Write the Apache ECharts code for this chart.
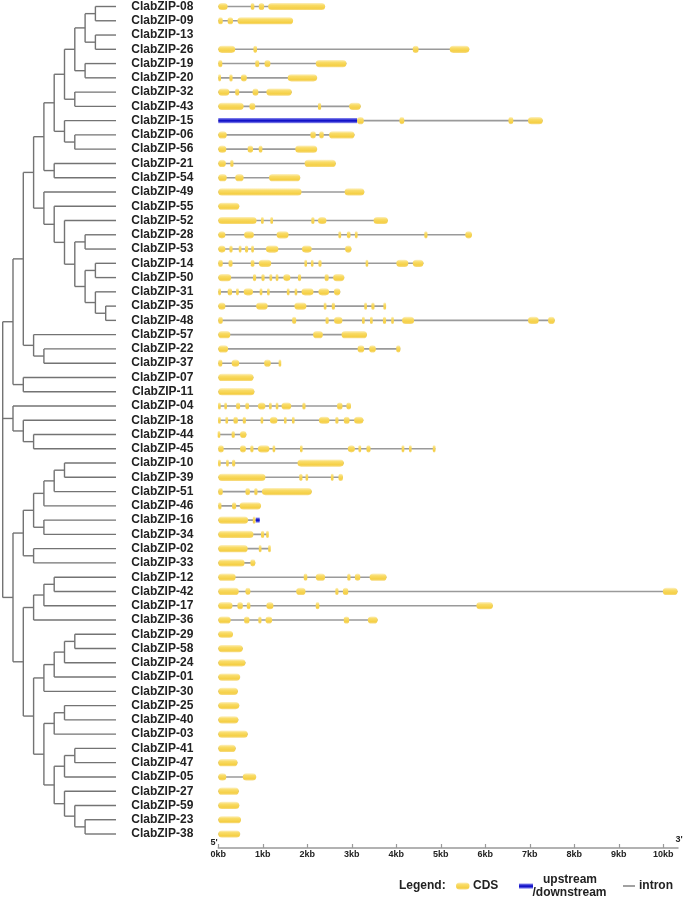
<!DOCTYPE html>
<html><head><meta charset="utf-8">
<script src="https://cdn.jsdelivr.net/npm/echarts@6/dist/echarts.min.js"></script>
<style>html,body{margin:0;padding:0;background:#fff}#c{width:685px;height:900px}</style>
</head><body><div id="c"></div>
<script>
// ---------------- DATA ----------------
const geneIds = ['08','09','13','26','19','20','32','43','15','06','56','21','54','49','55','52','28','53','14','50','31','35','48','57','22','37','07','11','04','18','44','45','10','39','51','46','16','34','02','33','12','42','17','36','29','58','24','01','30','25','40','03','41','47','05','27','59','23','38'];
const geneNames = geneIds.map(id => 'ClabZIP-' + id);

// cladogram topology (Newick clades, leaf names = gene ids)
const cladeA = '((((((08,09),(13,26)),(19,20)),(32,43)),(15,(06,56))),(21,54))';
const cladeB = '(49,(55,(52,((28,53),((14,50),(31,(35,48)))))))';
const cladeC = '(57,(22,37))';
const cladeD = '(07,11)';
const cladeM = '(04,(18,(44,45)))';
const cladeL1 = '(((((10,39),51),46),(16,34)),(02,33))';
const cladeL2 = '(((12,42),17),36)';
const cladeL3 = '((((29,58),24),01),30)';
const cladeL4 = '(((25,40),03),(((41,47),05),(27,(59,(23,38)))))';
const treeNewick = '(' +
  '(((' + cladeA + ',' + cladeB + '),' + cladeC + '),' + cladeD + '),' +
  cladeM + ',' +
  '(' + cladeL1 + ',(' + cladeL2 + ',(' + cladeL3 + ',' + cladeL4 + ')))' +
  ');';

// CDS exons in kb, same order as geneIds
const cdsExons = [
 [[0,0.21],[0.73,0.81],[0.91,1.03],[1.12,2.40]],
 [[0,0.1],[0.21,0.33],[0.43,1.68]],
 [],
 [[0,0.38],[0.79,0.87],[4.37,4.5],[5.2,5.64]],
 [[0,0.09],[0.83,0.92],[1.04,1.17],[2.19,2.88]],
 [[0,0.06],[0.25,0.32],[0.51,0.64],[1.56,2.22]],
 [[0,0.25],[0.38,0.47],[0.77,0.9],[1.08,1.65]],
 [[0,0.57],[0.7,0.83],[2.24,2.31],[2.94,3.2]],
 [[3.12,3.27],[4.07,4.18],[6.52,6.63],[6.96,7.29]],
 [[0,0.19],[2.07,2.19],[2.27,2.37],[2.49,3.06]],
 [[0,0.18],[0.66,0.78],[0.91,0.99],[1.73,2.22]],
 [[0,0.17],[0.27,0.34],[1.94,2.64]],
 [[0,0.19],[0.38,0.57],[1.14,1.84]],
 [[0,1.87],[2.84,3.28]],
 [[0,0.47]],
 [[0,0.86],[0.96,1.02],[1.17,1.23],[2.09,2.16],[2.24,2.43],[3.49,3.81]],
 [[0,0.16],[0.58,0.8],[1.31,1.58],[2.7,2.76],[2.89,2.97],[3.07,3.13],[4.63,4.7],[5.55,5.7]],
 [[0,0.16],[0.25,0.32],[0.46,0.52],[0.6,0.67],[0.74,0.8],[1.07,1.35],[1.88,2.1],[2.85,2.99]],
 [[0,0.1],[0.23,0.32],[0.73,0.81],[0.91,1.19],[1.94,1.99],[2.09,2.13],[2.25,2.32],[3.32,3.36],[4.0,4.27],[4.37,4.61]],
 [[0,0.29],[0.78,0.85],[0.97,1.04],[1.15,1.21],[1.29,1.35],[1.46,1.62],[1.79,1.86],[2.39,2.48],[2.58,2.83]],
 [[0,0.06],[0.21,0.31],[0.4,0.46],[0.57,0.78],[0.93,0.99],[1.1,1.15],[1.54,1.6],[1.72,1.77],[1.87,2.14],[2.25,2.49],[2.6,2.74]],
 [[0,0.16],[0.85,1.11],[1.71,1.98],[2.37,2.43],[2.55,2.62],[3.28,3.34],[3.44,3.51],[3.71,3.77]],
 [[0,0.1],[1.66,1.75],[2.41,2.48],[2.6,2.79],[3.23,3.29],[3.41,3.47],[3.7,3.77],[3.89,3.94],[4.13,4.4],[6.96,7.2],[7.41,7.56]],
 [[0,0.27],[2.13,2.35],[2.77,3.34]],
 [[0,0.22],[3.13,3.28],[3.39,3.54],[4.0,4.09]],
 [[0,0.09],[0.3,0.47],[1.03,1.18],[1.37,1.4]],
 [[0,0.79]],
 [[0,0.81]],
 [[0,0.05],[0.14,0.19],[0.4,0.49],[0.61,0.69],[0.89,1.06],[1.14,1.2],[1.3,1.34],[1.42,1.64],[1.89,1.96],[2.67,2.79],[2.88,2.98]],
 [[0,0.05],[0.16,0.22],[0.34,0.44],[0.55,0.62],[0.96,1.0],[1.16,1.33],[1.48,1.53],[1.66,1.71],[2.26,2.5],[2.63,2.7],[2.82,2.95],[3.05,3.26]],
 [[0,0.03],[0.3,0.37],[0.49,0.63]],
 [[0,0.12],[0.49,0.62],[0.72,0.79],[0.89,1.15],[1.23,1.27],[1.84,1.89],[2.91,3.07],[3.15,3.21],[3.33,3.42],[4.12,4.18],[4.29,4.34],[4.82,4.88]],
 [[0,0.05],[0.19,0.22],[0.31,0.38],[1.78,2.82]],
 [[0,1.06],[1.82,1.89],[1.97,2.01],[2.53,2.59],[2.7,2.8]],
 [[0,0.1],[0.61,0.71],[0.81,0.88],[0.98,2.1]],
 [[0,0.07],[0.31,0.4],[0.48,0.96]],
 [[0,0.67],[0.78,0.83]],
 [[0,0.79],[0.96,1.03],[1.09,1.12]],
 [[0,0.66],[0.91,0.97],[1.14,1.16]],
 [[0,0.59],[0.72,0.83]],
 [[0,0.39],[1.92,2.0],[2.19,2.4],[2.9,2.97],[3.07,3.19],[3.4,3.78]],
 [[0,0.46],[0.61,0.72],[1.75,1.96],[2.63,2.7],[2.8,2.92],[9.99,10.32]],
 [[0,0.32],[0.43,0.55],[0.64,0.72],[1.08,1.24],[2.19,2.27],[5.8,6.17]],
 [[0,0.28],[0.58,0.7],[0.9,0.97],[1.06,1.21],[2.82,2.94],[3.36,3.58]],
 [[0,0.33]],
 [[0,0.55]],
 [[0,0.61]],
 [[0,0.49]],
 [[0,0.44]],
 [[0,0.47]],
 [[0,0.45]],
 [[0,0.66]],
 [[0,0.39]],
 [[0,0.43]],
 [[0,0.18],[0.55,0.85]],
 [[0,0.46]],
 [[0,0.47]],
 [[0,0.51]],
 [[0,0.49]]
];

// upstream / downstream regions (kb), keyed by gene id
const flankRegions = { '15': [[0,3.12]], '16': [[0.84,0.93]] };

const axisTickValues = [0,1,2,3,4,5,6,7,8,9,10];
const axisTickLabels = ['0kb','1kb','2kb','3kb','4kb','5kb','6kb','7kb','8kb','9kb','10kb'];
const axisMaxKb = 10.33;
const legendItems = ['CDS', 'upstream', '/downstream', 'intron'];

// ---------------- TREE LAYOUT ----------------
function parseNewick(s) {
  let i = 0;
  function node() {
    if (s[i] === '(') {
      i++;
      const ch = [node()];
      while (s[i] === ',') { i++; ch.push(node()); }
      i++; // ')'
      return { children: ch };
    }
    let name = '';
    while (i < s.length && !',();'.includes(s[i])) name += s[i++];
    return { name: name.trim() };
  }
  return node();
}
const LEAF_DEPTH = 11;
const treeSegs = [];
function layout(n, depth) {
  if (!n.children) { n.y = geneIds.indexOf(n.name); n.x = LEAF_DEPTH; return; }
  n.x = depth;
  n.children.forEach(c => layout(c, depth + 1));
  const ys = n.children.map(c => c.y);
  const lo = Math.min(...ys), hi = Math.max(...ys);
  n.y = (lo + hi) / 2;
  treeSegs.push([n.x, lo, n.x, hi]);
  n.children.forEach(c => treeSegs.push([n.x, c.y, c.x, c.y]));
}
layout(parseNewick(treeNewick), 0);

// ---------------- CHART ----------------
const FONT = '"Liberation Sans", Arial, Helvetica, sans-serif';
const TOP = 6.5, PLOT_H = 827.5;
const yellowGrad = { type: 'linear', x: 0, y: 0, x2: 0, y2: 1, colorStops: [
  { offset: 0, color: '#fdf1c4' }, { offset: 0.3, color: '#f9dc68' },
  { offset: 0.75, color: '#f5cf45' }, { offset: 1, color: '#f7dc86' } ] };
const blueGrad = { type: 'linear', x: 0, y: 0, x2: 0, y2: 1, colorStops: [
  { offset: 0, color: '#8e8ef0' }, { offset: 0.45, color: '#1212c8' },
  { offset: 0.6, color: '#1212c8' }, { offset: 1, color: '#9a9af2' } ] };
const txt = (text, x, y, align) => ({ type: 'text', x: x, y: y,
  style: { text: text, fontSize: 12, fontWeight: 'bold', fill: '#222', fontFamily: FONT, align: align || 'left', verticalAlign: 'middle' } });

const chart = echarts.init(document.getElementById('c'), null, { renderer: 'canvas' });
chart.setOption({
  animation: false,
  backgroundColor: '#fff',
  grid: [
    { left: 2.7, width: 113.3, top: TOP, height: PLOT_H, containLabel: false },
    { left: 218.3, width: axisMaxKb * 44.5, top: TOP, height: PLOT_H, containLabel: false }
  ],
  xAxis: [
    { gridIndex: 0, type: 'value', min: 0, max: LEAF_DEPTH, show: false },
    { gridIndex: 1, type: 'value', min: 0, max: axisMaxKb, position: 'bottom', offset: 14,
      splitLine: { show: false },
      axisLine: { show: true, onZero: false, lineStyle: { color: '#999', width: 1.5 } },
      axisTick: { show: true, inside: true, length: 4, customValues: axisTickValues, lineStyle: { color: '#999', width: 1.2 } },
      axisLabel: { show: true, customValues: axisTickValues, margin: 2, fontSize: 9, fontWeight: 'bold', color: '#222', fontFamily: FONT,
        formatter: v => axisTickLabels[axisTickValues.indexOf(v)] || '' } }
  ],
  yAxis: [
    { gridIndex: 0, type: 'value', min: 0, max: geneIds.length - 1, inverse: true, show: false },
    { gridIndex: 1, type: 'category', data: geneNames, inverse: true, boundaryGap: false,
      axisLine: { show: false }, axisTick: { show: false }, splitLine: { show: false },
      axisLabel: { interval: 0, margin: 25, fontSize: 12, fontWeight: 'bold', color: '#222', fontFamily: FONT } }
  ],
  series: [
    { type: 'custom', xAxisIndex: 0, yAxisIndex: 0, clip: false, silent: true,
      data: treeSegs,
      renderItem: (params, api) => {
        const p1 = api.coord([api.value(0), api.value(1)]);
        const p2 = api.coord([api.value(2), api.value(3)]);
        return { type: 'line', shape: { x1: p1[0], y1: p1[1], x2: p2[0], y2: p2[1] },
          style: { stroke: '#737373', lineWidth: 1.4 } };
      } },
    { type: 'custom', xAxisIndex: 1, yAxisIndex: 1, clip: false, silent: true,
      encode: { x: 0, y: 1 },
      data: geneIds.map((g, i) => [0, i]),
      renderItem: (params, api) => {
        const i = api.value(1);
        const ex = cdsExons[i] || [];
        const fl = flankRegions[geneIds[i]] || [];
        const all = ex.concat(fl);
        const children = [];
        if (!all.length) return { type: 'group', children };
        const y = api.coord([0, i])[1];
        const xs = all.map(e => e[0]), xe = all.map(e => e[1]);
        const xa = api.coord([Math.min(...xs), i])[0];
        const xb = api.coord([Math.max(...xe), i])[0];
        children.push({ type: 'line', shape: { x1: xa, y1: y, x2: xb, y2: y },
          style: { stroke: '#9a9a9a', lineWidth: 1.6 } });
        fl.forEach(e => {
          const a = api.coord([e[0], i])[0], b = api.coord([e[1], i])[0];
          children.push({ type: 'rect', shape: { x: a, y: y - 2.6, width: Math.max(b - a, 2), height: 5.2 },
            style: { fill: blueGrad } });
        });
        ex.forEach(e => {
          let a = api.coord([e[0], i])[0], b = api.coord([e[1], i])[0];
          let w = b - a;
          if (w < 2.6) { const c = (a + b) / 2; a = c - 1.3; w = 2.6; }
          children.push({ type: 'rect', shape: { x: a, y: y - 3.6, width: w, height: 7.2, r: Math.min(3.6, w / 2) },
            style: { fill: yellowGrad } });
        });
        return { type: 'group', children };
      } }
  ],
  graphic: [
    { type: 'text', x: 210.5, y: 843, style: { text: "5'", fontSize: 9, fontWeight: 'bold', fill: '#222', fontFamily: FONT, verticalAlign: 'middle' } },
    { type: 'text', x: 675.5, y: 840, style: { text: "3'", fontSize: 9, fontWeight: 'bold', fill: '#222', fontFamily: FONT, verticalAlign: 'middle' } },
    txt('Legend:', 399, 886),
    { type: 'rect', x: 456, y: 882.4, shape: { x: 0, y: 0, width: 13.5, height: 7.2, r: 3.6 }, style: { fill: yellowGrad } },
    txt(legendItems[0], 473, 886),
    { type: 'rect', x: 519, y: 883.5, shape: { x: 0, y: 0, width: 14, height: 5.2 }, style: { fill: blueGrad } },
    txt(legendItems[1], 570, 880, 'center'),
    txt(legendItems[2], 569.5, 893, 'center'),
    { type: 'line', shape: { x1: 623, y1: 886, x2: 635, y2: 886 }, style: { stroke: '#8a8a8a', lineWidth: 1.6 } },
    txt(legendItems[3], 639, 886)
  ]
});
</script></body></html>
